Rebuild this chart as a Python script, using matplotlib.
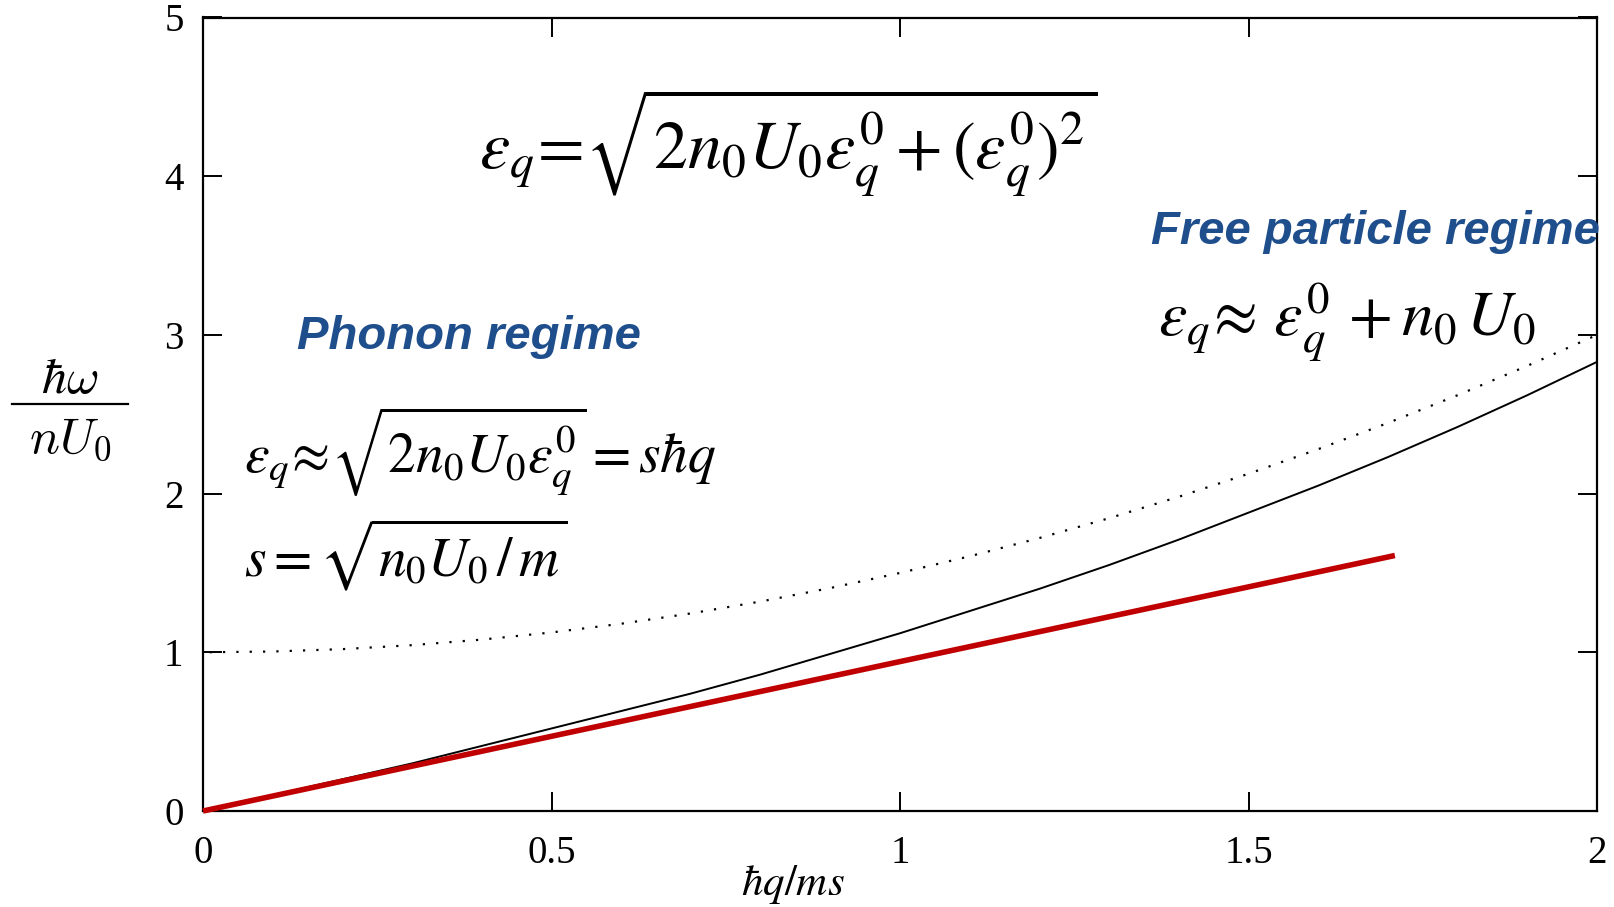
import matplotlib
matplotlib.use("Agg")
import matplotlib.pyplot as plt
from matplotlib.lines import Line2D

# Dimensionless momentum  ħq/(ms)
q = [0.0, 0.1, 0.2, 0.3, 0.4, 0.5, 0.6, 0.7, 0.8, 0.9, 1.0,
     1.1, 1.2, 1.3, 1.4, 1.5, 1.6, 1.7, 1.8, 1.9, 2.0]
# Bogoliubov excitation energy  ħω/(nU0)
bogoliubov = [0.00, 0.10, 0.20, 0.30, 0.41, 0.52, 0.63, 0.74, 0.86, 0.99, 1.12,
              1.26, 1.40, 1.55, 1.71, 1.88, 2.05, 2.23, 2.42, 2.62, 2.83]
# Free-particle energy shifted by nU0
free_particle = [1.00, 1.005, 1.02, 1.045, 1.08, 1.125, 1.18, 1.245, 1.32, 1.405, 1.50,
                 1.605, 1.72, 1.845, 1.98, 2.125, 2.28, 2.445, 2.62, 2.805, 3.00]
# Linear phonon branch
phonon_q = [0.0, 1.71]
phonon_e = [0.0, 1.61]

xticks = [0, 0.5, 1, 1.5, 2]
xticklabels = ["0", "0.5", "1", "1.5", "2"]
yticks = [0, 1, 2, 3, 4, 5]
yticklabels = ["0", "1", "2", "3", "4", "5"]

plt.rcParams["font.family"] = "Liberation Serif"
plt.rcParams["mathtext.fontset"] = "stix"

W, H, DPI = 1614, 907, 100
fig = plt.figure(figsize=(W / DPI, H / DPI), dpi=DPI)
ax = fig.add_axes([203 / W, 1 - 811 / H, (1597 - 203) / W, (811 - 17.5) / H])

ax.plot(q, bogoliubov, color="black", lw=1.4, zorder=3)
ax.plot(q, free_particle, color="black", lw=1.6, ls=(3, (1, 5)), zorder=3)
ax.plot(phonon_q, phonon_e, color="#C00000", lw=4.0, solid_capstyle="butt", zorder=4,
        clip_on=False)

ax.set_xlim(0, 2)
ax.set_ylim(0, 5)
ax.set_xticks(xticks)
ax.set_xticklabels(xticklabels)
ax.set_yticks(yticks)
ax.set_yticklabels(yticklabels)
ax.tick_params(axis="both", direction="in", length=14, width=1.4,
               top=True, right=True, labelsize=28)
ax.tick_params(axis="x", pad=17)
ax.tick_params(axis="y", pad=14)
for sp in ax.spines.values():
    sp.set_linewidth(1.6)

# Axis labels
fig.text(793 / W, 1 - 884 / H, r"$\hbar q/ms$", fontsize=31, ha="center", va="center",
         fontweight="bold")
fig.text(70 / W, 1 - 381 / H, r"$\hbar\omega$", fontsize=36, ha="center", va="center",
         math_fontfamily="cm")
fig.text(70 / W, 1 - 440 / H, r"$nU_0$", fontsize=36, ha="center", va="center",
         math_fontfamily="cm")
fig.add_artist(Line2D([12 / W, 128 / W], [1 - 404 / H, 1 - 404 / H],
                      color="black", lw=1.6, transform=fig.transFigure))

# Dispersion formulas
fig.text(788 / W, 1 - 143 / H,
         r"$\varepsilon_q\!=\!\sqrt{2n_0U_0\varepsilon_q^0+(\varepsilon_q^0)^2}$",
         fontsize=49, ha="center", va="center")

blue = "#1F4E8C"
fig.text(469 / W, 1 - 337 / H, "Phonon regime", fontsize=34, fontweight="bold",
         style="italic", family="Liberation Sans", color=blue, ha="center", va="center")
fig.text(244 / W, 1 - 452 / H,
         r"$\varepsilon_q\!\approx\!\sqrt{2n_0U_0\varepsilon_q^0}=s\hbar q$",
         fontsize=40, ha="left", va="center")
fig.text(244 / W, 1 - 555 / H, r"$s=\sqrt{n_0U_0\,/\,m}$",
         fontsize=40, ha="left", va="center")

fig.text(1375 / W, 1 - 232 / H, "Free particle regime", fontsize=34, fontweight="bold",
         style="italic", family="Liberation Sans", color=blue, ha="center", va="center")
fig.text(1158 / W, 1 - 322 / H, r"$\varepsilon_q\!\approx\,\varepsilon_q^0\,+n_0\,U_0$",
         fontsize=46, ha="left", va="center")

fig.savefig("out.png", dpi=DPI, facecolor="white")
